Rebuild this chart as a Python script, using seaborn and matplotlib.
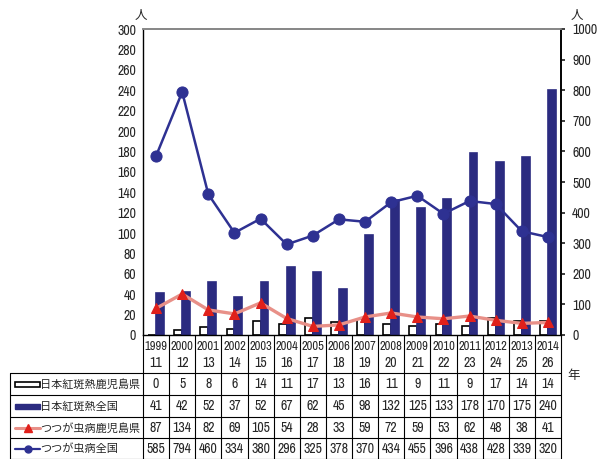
import numpy as np
import pandas as pd
import matplotlib
matplotlib.use("Agg")
from matplotlib import pyplot as plt
from matplotlib import font_manager
from matplotlib.patches import Rectangle
import seaborn as sns

sns.set_theme(style="white")

# pick a narrow face for the numbers if one is installed
narrow = None
for f in font_manager.fontManager.ttflist:
    if "Narrow" in f.name or "Condensed" in f.name:
        narrow = (f.name, "normal")
        break
if narrow is None:
    for f in font_manager.fontManager.ttflist:
        if f.name == "DejaVu Sans" and f.stretch == "condensed" and f.weight in (400, "normal"):
            narrow = ("DejaVu Sans", "condensed")
            break
if narrow is None:
    narrow = ("Liberation Sans", "normal")
plt.rcParams["font.family"] = [narrow[0], "Noto Sans CJK JP"]
plt.rcParams["font.stretch"] = narrow[1]

years = [1999, 2000, 2001, 2002, 2003, 2004, 2005, 2006, 2007, 2008, 2009, 2010, 2011, 2012, 2013, 2014]
heisei = [11, 12, 13, 14, 15, 16, 17, 18, 19, 20, 21, 22, 23, 24, 25, 26]
names = ["日本紅斑熱鹿児島県", "日本紅斑熱全国", "つつが虫病鹿児島県", "つつが虫病全国"]
sf_kagoshima = [0, 5, 8, 6, 14, 11, 17, 13, 16, 11, 9, 11, 9, 17, 14, 14]
sf_national = [41, 42, 52, 37, 52, 67, 62, 45, 98, 132, 125, 133, 178, 170, 175, 240]
ts_kagoshima = [87, 134, 82, 69, 105, 54, 28, 33, 59, 72, 59, 53, 62, 48, 38, 41]
ts_national = [585, 794, 460, 334, 380, 296, 325, 378, 370, 434, 455, 396, 438, 428, 339, 320]

NAVY = "#2b2b80"
BLUE = "#2e3192"
PINK = "#e89088"
RED = "#e0201b"
FS = 10 if narrow[0] != "Liberation Sans" else 7.5
FS_YEAR = 9 if narrow[0] != "Liberation Sans" else 7.5
JP = ["Noto Sans CJK JP"]

df = pd.DataFrame({
    "year": years * 2,
    "series": [names[0]] * len(years) + [names[1]] * len(years),
    "count": sf_kagoshima + sf_national,
})

fig = plt.figure(figsize=(6, 4.59), dpi=100)
ax = fig.add_axes([143 / 600, 1 - 335 / 459, 418 / 600, 306 / 459])
sns.barplot(data=df, x="year", y="count", hue="series", hue_order=names[:2],
            palette=["white", NAVY], width=0.6, saturation=1, legend=False, ax=ax)
for p in ax.patches:
    fc = p.get_facecolor()
    p.set_edgecolor("black" if fc[0] > 0.9 else NAVY)
    p.set_linewidth(1.2)

ax.set_xlim(-0.5, 15.5)
ax.set_ylim(0, 300)
ax.set_yticks(range(0, 301, 20))
ax.set_xticks([])
ax.set_xlabel("")
ax.set_ylabel("")
ax.tick_params(axis="y", labelsize=FS, pad=5, length=0)
for s in ["left", "bottom"]:
    ax.spines[s].set_color("black")
    ax.spines[s].set_linewidth(1)
ax.spines["top"].set_color("#888888")

ax2 = ax.twinx()
xs = np.arange(len(years))
sns.lineplot(x=xs, y=ts_kagoshima, ax=ax2, color=PINK, linewidth=2.4, marker="^",
             markersize=7, markerfacecolor=RED, markeredgecolor=RED)
sns.lineplot(x=xs, y=ts_national, ax=ax2, color=BLUE, linewidth=1.8, marker="o",
             markersize=8, markerfacecolor=BLUE, markeredgecolor=BLUE)
ax2.set_xlim(-0.5, 15.5)
ax2.set_ylim(0, 1000)
ax2.set_yticks(range(0, 1001, 100))
ax2.tick_params(axis="y", labelsize=FS, pad=5, length=3, direction="out", right=True)
ax2.spines["right"].set_color("black")
ax2.spines["top"].set_color("#888888")
ax2.spines["left"].set_visible(False)
ax2.spines["bottom"].set_visible(False)

fig.text(141 / 600, 1 - 16 / 459, "人", fontsize=9, family=JP, ha="center", va="center")
fig.text(577 / 600, 1 - 16 / 459, "人", fontsize=9, family=JP, ha="center", va="center")
fig.text(574 / 600, 1 - 375 / 459, "年", fontsize=9, family=JP, ha="center", va="center")

# table below the plot, sharing the column positions
colw = 418 / 16
x0 = -0.5 - 133 / colw
tab = fig.add_axes([10 / 600, 0, 551 / 600, 124 / 459])
tab.set_xlim(x0, 15.5)
tab.set_ylim(124, 0)
tab.axis("off")


def px(x):
    return x0 + (x - 10) / colw


row_lines = [37.5, 60, 82, 103, 123.5]
row_mid = [49, 71.5, 93, 114]
for y in row_lines:
    tab.plot([x0, 15.5], [y, y], color="black", lw=0.8, clip_on=False)
for k in range(17):
    tab.plot([k - 0.5, k - 0.5], [0, 124], color="black", lw=0.8, clip_on=False)
tab.plot([x0, x0], [37.5, 124], color="black", lw=0.8, clip_on=False)

for i in range(len(years)):
    tab.text(i, 11, str(years[i]), fontsize=FS_YEAR, ha="center", va="center")
    tab.text(i, 28, str(heisei[i]), fontsize=FS, ha="center", va="center")
    for r, vals in enumerate([sf_kagoshima, sf_national, ts_kagoshima, ts_national]):
        tab.text(i, row_mid[r], str(vals[i]), fontsize=FS, ha="center", va="center")

for r, name in enumerate(names):
    tab.text(px(40), row_mid[r], name, fontsize=8, family=JP, ha="left", va="center")
tab.add_patch(Rectangle((px(15), row_mid[0] - 2.5), px(40) - px(15), 5,
                        facecolor="white", edgecolor="black", lw=1.2))
tab.add_patch(Rectangle((px(15), row_mid[1] - 2.5), px(40) - px(15), 5,
                        facecolor=NAVY, edgecolor=NAVY, lw=1.0))
tab.plot([px(15), px(40)], [row_mid[2], row_mid[2]], color=PINK, lw=2.2)
tab.plot([px(28)], [row_mid[2]], marker="^", color=RED, markersize=6)
tab.plot([px(15), px(40)], [row_mid[3], row_mid[3]], color=BLUE, lw=1.6)
tab.plot([px(28)], [row_mid[3]], marker="o", color=BLUE, markersize=5)

fig.savefig("out.png", dpi=100)
